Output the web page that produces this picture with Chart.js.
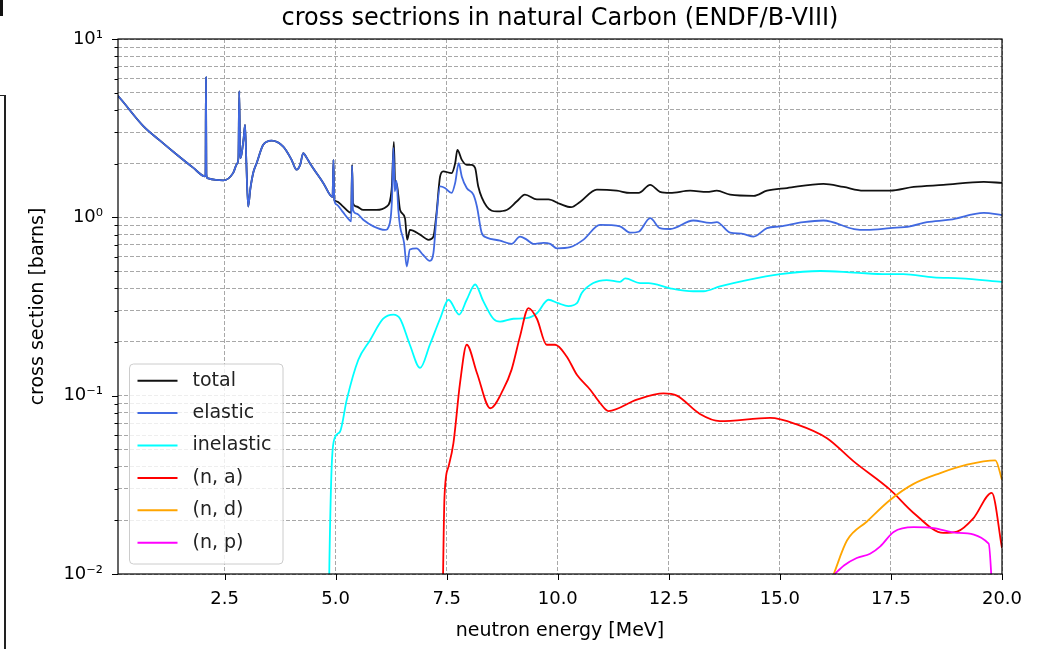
<!DOCTYPE html>
<html>
<head>
<meta charset="utf-8">
<title>cross sections in natural Carbon</title>
<script src="https://cdn.jsdelivr.net/npm/chart.js@4.4.1/dist/chart.umd.min.js"></script>
<style>
  html, body { margin: 0; padding: 0; background: #fff; }
  #wrap { position: relative; width: 1050px; height: 649px; overflow: hidden; }
  #chart { position: absolute; left: 0; top: 0; }
</style>
</head>
<body>
<div id="wrap">
  <canvas id="chart" width="1050" height="649"></canvas>
  <div style="position:absolute;left:0;top:0;width:3px;height:16px;background:#111"></div>
  <div style="position:absolute;left:0;top:95px;width:4px;height:560px;border-top:1px solid #222;border-right:2px solid #222"></div>
</div>
<script>
// energy grid [MeV] and cross sections [barns], ENDF/B-VIII natural C
const totalE = [0.1, 0.18, 0.67, 1.04, 1.42, 1.79, 2.06, 2.07, 2.08, 2.09, 2.11, 2.3, 2.47, 2.69, 2.78, 2.81, 2.83, 2.85, 2.88, 2.93,
  2.96, 2.99, 3.03, 3.08, 3.15, 3.22, 3.37, 3.56, 3.82, 4.0, 4.12, 4.2, 4.27, 4.35, 4.42, 4.72, 4.93, 4.95, 4.97, 5.02,
  5.15, 5.3, 5.35, 5.37, 5.39, 5.47, 5.62, 5.92, 6.15, 6.26, 6.31, 6.34, 6.37, 6.45, 6.56, 6.61, 6.67, 6.9, 7.09, 7.2,
  7.27, 7.35, 7.42, 7.61, 7.69, 7.74, 7.84, 7.95, 8.06, 8.14, 8.21, 8.4, 8.63, 8.85, 9.08, 9.26, 9.53, 9.79, 10.05, 10.3,
  10.5, 10.88, 11.33, 11.63, 11.82, 12.08, 12.3, 12.53, 12.98, 13.36, 13.58, 13.88, 14.41, 14.71, 15.16, 15.98, 16.43, 16.88, 17.48, 18.01,
  18.68, 19.59, 20.0];
const totalXs = [4.8, 4.55, 3.25, 2.7, 2.25, 1.9, 1.7, 1.75, 6.1, 1.75, 1.66, 1.62, 1.61, 1.77, 2.0, 2.15, 5.1, 2.15, 2.25, 2.8,
  3.3, 2.0, 1.15, 1.45, 1.8, 2.01, 2.55, 2.69, 2.49, 2.12, 1.85, 1.97, 2.29, 2.15, 2.01, 1.56, 1.3, 2.1, 1.25, 1.23,
  1.16, 1.07, 1.06, 1.97, 1.2, 1.15, 1.1, 1.1, 1.15, 1.43, 2.65, 1.5, 1.56, 1.1, 0.99, 0.748, 0.85, 0.8, 0.748, 0.78,
  1.055, 1.69, 1.81, 1.77, 2.01, 2.39, 2.1, 1.97, 1.97, 1.89, 1.49, 1.15, 1.08, 1.1, 1.23, 1.34, 1.26, 1.26, 1.19, 1.14,
  1.22, 1.43, 1.41, 1.37, 1.37, 1.52, 1.39, 1.37, 1.41, 1.39, 1.41, 1.34, 1.32, 1.41, 1.46, 1.54, 1.48, 1.41, 1.41, 1.48,
  1.52, 1.58, 1.56];

const elasticE = [0.1, 0.18, 0.67, 1.04, 1.42, 1.79, 2.06, 2.07, 2.08, 2.09, 2.11, 2.3, 2.47, 2.69, 2.78, 2.81, 2.83, 2.85, 2.88, 2.93,
  2.96, 2.99, 3.03, 3.08, 3.15, 3.22, 3.37, 3.56, 3.82, 4.0, 4.12, 4.2, 4.27, 4.35, 4.42, 4.72, 4.93, 4.95, 4.97, 5.02,
  5.15, 5.32, 5.35, 5.37, 5.39, 5.47, 5.62, 5.85, 6.11, 6.22, 6.27, 6.3, 6.33, 6.37, 6.41, 6.45, 6.54, 6.6, 6.67, 6.82,
  6.97, 7.12, 7.2, 7.27, 7.35, 7.46, 7.61, 7.69, 7.77, 7.84, 7.95, 8.1, 8.18, 8.29, 8.4, 8.7, 8.96, 9.15, 9.3, 9.45,
  9.68, 9.83, 9.98, 10.28, 10.58, 10.95, 11.4, 11.63, 11.82, 12.08, 12.3, 12.53, 13.05, 13.43, 13.58, 13.88, 14.14, 14.41, 14.71, 15.01,
  15.53, 15.98, 16.67, 16.96, 17.48, 17.93, 18.31, 18.83, 19.59, 20.0];
const elasticXs = [4.8, 4.55, 3.25, 2.7, 2.25, 1.9, 1.7, 1.75, 6.1, 1.75, 1.66, 1.62, 1.61, 1.77, 2.0, 2.15, 5.1, 2.15, 2.25, 2.8,
  3.3, 2.0, 1.15, 1.45, 1.8, 2.01, 2.55, 2.69, 2.49, 2.12, 1.85, 1.97, 2.29, 2.15, 2.01, 1.56, 1.3, 2.1, 1.25, 1.18,
  1.08, 0.96, 0.95, 1.95, 1.1, 1.05, 0.97, 0.89, 0.85, 0.93, 1.3, 2.45, 1.4, 1.6, 1.1, 0.89, 0.72, 0.53, 0.66, 0.67,
  0.615, 0.57, 0.63, 1.01, 1.49, 1.46, 1.37, 1.56, 2.01, 1.69, 1.46, 1.34, 1.15, 0.815, 0.77, 0.74, 0.71, 0.78, 0.75, 0.71,
  0.72, 0.71, 0.67, 0.68, 0.75, 0.907, 0.89, 0.82, 0.83, 0.99, 0.87, 0.86, 0.96, 0.93, 0.94, 0.82, 0.81, 0.78, 0.87, 0.89,
  0.94, 0.96, 0.86, 0.85, 0.87, 0.89, 0.94, 0.97, 1.06, 1.03];

const inelasticE = [4.84, 4.86, 4.91, 4.98, 5.1, 5.25, 5.51, 5.77, 6.07, 6.3, 6.45, 6.67, 6.9, 7.12, 7.35, 7.54, 7.78, 7.95, 8.14, 8.32,
  8.55, 8.7, 9.0, 9.3, 9.53, 9.79, 10.01, 10.24, 10.43, 10.54, 10.8, 11.1, 11.4, 11.52, 11.85, 12.04, 12.53, 13.05, 13.28, 13.65,
  14.26, 15.01, 15.91, 16.67, 17.41, 17.78, 18.46, 19.06, 20.0];
const inelasticXs = [0.005, 0.012, 0.04, 0.058, 0.063, 0.095, 0.159, 0.204, 0.27, 0.285, 0.27, 0.193, 0.143, 0.193, 0.27, 0.345, 0.285, 0.345, 0.42, 0.34,
  0.27, 0.26, 0.27, 0.272, 0.29, 0.345, 0.33, 0.318, 0.33, 0.376, 0.428, 0.445, 0.435, 0.455, 0.428, 0.428, 0.4, 0.385, 0.385, 0.41,
  0.445, 0.48, 0.5, 0.49, 0.48, 0.48, 0.46, 0.455, 0.435];

const alphaE = [7.4, 7.45, 7.54, 7.65, 7.8, 7.95, 8.18, 8.48, 8.77, 8.96, 9.15, 9.34, 9.53, 9.75, 9.94, 10.2, 10.43, 10.73, 10.95, 11.14,
  11.78, 12.38, 12.68, 13.2, 13.65, 14.78, 15.38, 16.06, 16.66, 17.48, 18.01, 18.68, 18.99, 19.36, 19.77, 20.0];
const alphaXs = [0.005, 0.0272, 0.04, 0.054, 0.118, 0.193, 0.134, 0.085, 0.108, 0.14, 0.215, 0.31, 0.27, 0.193, 0.193, 0.166, 0.131, 0.108, 0.091, 0.082,
  0.095, 0.103, 0.1, 0.079, 0.072, 0.075, 0.069, 0.0577, 0.0428, 0.0297, 0.022, 0.017, 0.0173, 0.0206, 0.0285, 0.014];

const deutE = [16.2, 16.51, 16.96, 17.48, 18.01, 18.61, 19.21, 19.85, 20.0];
const deutXs = [0.0098, 0.0154, 0.0197, 0.026, 0.032, 0.0368, 0.041, 0.0434, 0.0338];

const protE = [16.2, 16.45, 16.73, 17.03, 17.26, 17.56, 18.01, 18.46, 18.99, 19.7, 19.82];
const protXs = [0.0098, 0.0112, 0.0123, 0.013, 0.0143, 0.0172, 0.0183, 0.0181, 0.017, 0.0148, 0.005];

const xTicks = [2.5, 5, 7.5, 10, 12.5, 15, 17.5, 20];
const yDecades = [-2, -1, 0, 1];

const FONT = "'DejaVu Sans'";
const SUP = { "-": "\u207B", "0": "\u2070", "1": "\u00B9", "2": "\u00B2", "3": "\u00B3" };

const pts = (e, s) => e.map((x, i) => ({ x, y: s[i] }));
const isDecade = v => Math.abs(Math.log10(v) - Math.round(Math.log10(v))) < 1e-9;

function logTicks() {
  const out = [];
  const last = yDecades[yDecades.length - 1];
  for (let d = yDecades[0]; d < last; d++) {
    for (let m = 1; m < 10; m++) out.push({ value: +(m * Math.pow(10, d)).toPrecision(3) });
  }
  out.push({ value: Math.pow(10, last) });
  return out;
}

function line(label, e, s, color, order) {
  return {
    label, data: pts(e, s), borderColor: color, backgroundColor: color,
    borderWidth: 1.8, pointRadius: 0, fill: false,
    cubicInterpolationMode: "monotone", order
  };
}

// frame, tick marks and the legend box
const decor = {
  id: "decor",
  afterDatasetsDraw(chart) {
    const { ctx, chartArea: a, scales: { x, y } } = chart;
    ctx.save();
    ctx.strokeStyle = "#000";
    ctx.lineWidth = 1;
    ctx.beginPath();
    y.ticks.forEach(t => {
      const py = Math.round(y.getPixelForValue(t.value)) + 0.5;
      const len = isDecade(t.value) ? 6 : 3.5;
      ctx.moveTo(a.left - len, py);
      ctx.lineTo(a.left, py);
    });
    x.ticks.forEach(t => {
      const px = Math.round(x.getPixelForValue(t.value)) + 0.5;
      ctx.moveTo(px, a.bottom);
      ctx.lineTo(px, a.bottom + 6);
    });
    ctx.stroke();
    ctx.lineWidth = 1.2;
    ctx.strokeRect(a.left, a.top, a.right - a.left, a.bottom - a.top);

    // legend
    const bx = a.left + 11.5, bw = 153.5, bh = 200, by = a.bottom - 10 - bh;
    ctx.beginPath();
    ctx.roundRect(bx, by, bw, bh, 4);
    ctx.fillStyle = "rgba(255,255,255,0.8)";
    ctx.fill();
    ctx.strokeStyle = "#cccccc";
    ctx.lineWidth = 1;
    ctx.stroke();
    ctx.font = "19px " + FONT;
    ctx.textBaseline = "middle";
    ctx.textAlign = "left";
    chart.data.datasets.forEach((ds, i) => {
      const cy = by + 16.7 + i * 32.4;
      ctx.strokeStyle = ds.borderColor;
      ctx.lineWidth = 2;
      ctx.beginPath();
      ctx.moveTo(bx + 8, cy);
      ctx.lineTo(bx + 48, cy);
      ctx.stroke();
      ctx.fillStyle = "#222";
      ctx.fillText(ds.label, bx + 63, cy);
    });
    ctx.restore();
  }
};

Chart.defaults.font.family = FONT;
Chart.defaults.color = "#000";

new Chart(document.getElementById("chart"), {
  type: "line",
  data: {
    datasets: [
      line("total", totalE, totalXs, "#111111", 6),
      line("elastic", elasticE, elasticXs, "royalblue", 5),
      line("inelastic", inelasticE, inelasticXs, "cyan", 4),
      line("(n, a)", alphaE, alphaXs, "red", 3),
      line("(n, d)", deutE, deutXs, "orange", 2),
      line("(n, p)", protE, protXs, "magenta", 1)
    ]
  },
  options: {
    responsive: false,
    animation: false,
    devicePixelRatio: 1,
    layout: { padding: { top: 0, right: 48, bottom: 0, left: 0 } },
    plugins: {
      legend: { display: false },
      tooltip: { enabled: false },
      title: {
        display: true,
        fullSize: false,
        text: "cross sectrions in natural Carbon (ENDF/B-VIII)",
        font: { size: 24, weight: "normal" },
        color: "#000",
        padding: { top: 4, bottom: 6.2 }
      }
    },
    scales: {
      x: {
        type: "linear",
        min: 0.1,
        max: 20,
        afterBuildTicks: s => { s.ticks = xTicks.map(v => ({ value: v })); },
        afterFit: s => { s.height = 75; s.paddingLeft = 0; s.paddingRight = 0; },
        ticks: {
          autoSkip: false, maxRotation: 0, padding: 15,
          font: { size: 18 }, color: "#000",
          callback: v => v.toFixed(1)
        },
        grid: { color: "#a8a8a8", lineWidth: 1, drawTicks: false },
        border: { display: false, dash: [4, 2] },
        title: {
          display: true, text: "neutron energy [MeV]",
          font: { size: 19 }, color: "#000", padding: { top: 0, bottom: 7 }
        }
      },
      y: {
        type: "logarithmic",
        min: 0.01,
        max: 10,
        afterBuildTicks: s => { s.ticks = logTicks(); },
        afterFit: s => { s.width = 118; s.paddingTop = 0; s.paddingBottom = 0; },
        ticks: {
          autoSkip: false, padding: 15,
          font: { size: 18 }, color: "#000",
          callback: v => {
            if (!isDecade(v)) return "";
            const e = String(Math.round(Math.log10(v)));
            return "10" + e.split("").map(c => SUP[c]).join("");
          }
        },
        grid: { color: "#a8a8a8", lineWidth: 1, drawTicks: false },
        border: { display: false, dash: [4, 2] },
        title: {
          display: true, text: "cross section [barns]",
          font: { size: 19 }, color: "#000", padding: { top: 27, bottom: 0 }
        }
      }
    }
  },
  plugins: [decor]
});
</script>
</body>
</html>
